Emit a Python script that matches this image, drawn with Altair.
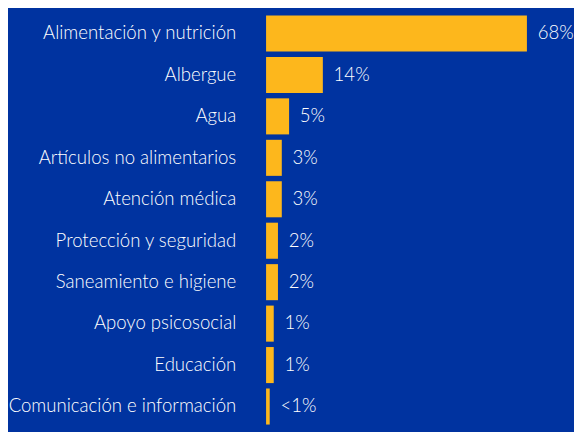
import altair as alt
import pandas as pd

categories = [
    "Alimentación y nutrición",
    "Albergue",
    "Agua",
    "Artículos no alimentarios",
    "Atención médica",
    "Protección y seguridad",
    "Saneamiento e higiene",
    "Apoyo psicosocial",
    "Educación",
    "Comunicación e información",
]
# bar lengths as drawn (percent)
values = [68, 14.8, 6.0, 4.1, 4.1, 3.1, 3.1, 2.0, 2.0, 0.95]
value_labels = ["68%", "14%", "5%", "3%", "3%", "2%", "2%", "1%", "1%", "<1%"]

BG = "#0033A0"
BAR = "#FDB71C"
FONT = "Lato"

df = pd.DataFrame({"cat": categories, "val": values, "lab": value_labels})

y = alt.Y(
    "cat:N",
    sort=categories,
    title=None,
    scale=alt.Scale(paddingInner=0.13, paddingOuter=0.065),
    axis=alt.Axis(
        labelColor="white",
        labelFontSize=19,
        labelFont=FONT,
        labelFontWeight=300,
        labelPadding=31,
        ticks=False,
        domain=False,
        labelLimit=400,
    ),
)
x = alt.X("val:Q", title=None, scale=alt.Scale(domain=[0, 79]), axis=None)

bars = alt.Chart(df).mark_bar(color=BAR).encode(x=x, y=y)
text = alt.Chart(df).mark_text(
    align="left", baseline="middle", dx=11, color="white", fontSize=19, font=FONT, fontWeight=300
).encode(x=x, y=y, text="lab:N")

chart = (
    (bars + text)
    .properties(width=310, height=424, background=BG, padding={"left": 0, "top": 0, "right": 0, "bottom": 0})
    .configure_view(stroke=None)
)

chart.save("out.html", embed_options={"renderer": "svg", "actions": False})
